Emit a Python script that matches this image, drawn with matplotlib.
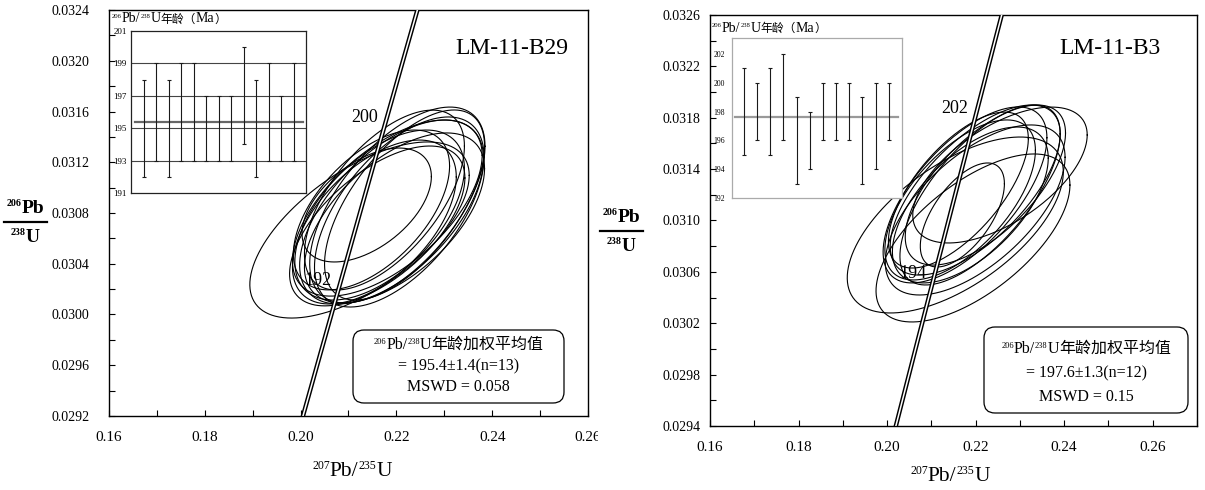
import numpy as np
import matplotlib
matplotlib.use("Agg")
import matplotlib.pyplot as plt
from matplotlib.lines import Line2D
from matplotlib.text import Text
from matplotlib.patches import FancyBboxPatch, Rectangle
from matplotlib.offsetbox import TextArea, HPacker, DrawingArea, AnnotationBbox
from matplotlib.ticker import MultipleLocator, FormatStrFormatter

plt.rcParams['font.family'] = ['Liberation Serif', 'Noto Sans CJK SC']

# decay constants (1/yr)
L238 = 1.55125e-10
L235 = 9.8485e-10

# ---- LM-11-B29 ----  (207/235, 206/238, 2s errors, rho)
b29_cx = [0.2123, 0.2138, 0.2190, 0.2202, 0.2165, 0.2175, 0.2154, 0.2196, 0.2148, 0.2206, 0.2181, 0.2160, 0.2217]
b29_cy = [0.030666, 0.030863, 0.030808, 0.030863, 0.030784, 0.030902, 0.030729, 0.030761, 0.030824, 0.030808, 0.030839, 0.030698, 0.030863]
b29_sx = [0.0229, 0.0135, 0.0192, 0.0183, 0.0177, 0.0167, 0.0171, 0.0188, 0.0163, 0.0177, 0.0198, 0.0183, 0.0167]
b29_sy = [0.000694, 0.000449, 0.000725, 0.000772, 0.000670, 0.000709, 0.000646, 0.000670, 0.000630, 0.000749, 0.000694, 0.000630, 0.000749]
b29_rho = [0.62, 0.50, 0.58, 0.60, 0.55, 0.60, 0.55, 0.58, 0.55, 0.58, 0.60, 0.60, 0.62]
b29_age = [195, 196, 195, 196, 196, 195, 195, 195, 197, 195, 196, 195, 196]
b29_err = [3, 3, 3, 3, 3, 2, 2, 2, 3, 3, 3, 2, 3]
b29_mean = 195.4
b29_ticks = [191, 193, 195, 197, 199, 201]
b29_grid = [193, 195, 197, 199]
b29_marks = [192, 200]

# ---- LM-11-B3 ----
b3_cx = [0.2154, 0.2255, 0.2194, 0.2170, 0.2176, 0.2199, 0.2165, 0.2210, 0.2188, 0.2222, 0.2161, 0.2199]
b3_cy = [0.030965, 0.031354, 0.030864, 0.031043, 0.031199, 0.031237, 0.031160, 0.031199, 0.031121, 0.031276, 0.031237, 0.031082]
b3_sx = [0.0244, 0.0197, 0.0219, 0.0095, 0.0185, 0.0192, 0.0170, 0.0181, 0.0176, 0.0181, 0.0158, 0.0203]
b3_sy = [0.000685, 0.000529, 0.000654, 0.000405, 0.000685, 0.000662, 0.000623, 0.000701, 0.000607, 0.000623, 0.000607, 0.000662]
b3_rho = [0.60, 0.59, 0.63, 0.60, 0.65, 0.66, 0.62, 0.68, 0.60, 0.65, 0.66, 0.62]
b3_age = [198, 198, 198, 199, 196, 196, 198, 198, 198, 196, 197, 198]
b3_err = [3, 2, 3, 3, 3, 2, 2, 2, 2, 3, 3, 2]
b3_mean = 197.6
b3_ticks = [192, 194, 196, 198, 200, 202]
b3_marks = [194, 202]

W, H = 1205, 490
fig = plt.figure(figsize=(W / 100, H / 100), dpi=100)


def fx(px):
    return px / W


def fy(py):
    return 1 - py / H


def ellipse(cx, cy, sx, sy, rho, n=240):
    t = np.linspace(0, 2 * np.pi, n)
    x = cx + sx * np.cos(t)
    y = cy + sy * (rho * np.cos(t) + np.sqrt(1 - rho ** 2) * np.sin(t))
    return x, y


def chem(pieces, size, sup, cjk=None, weight='normal'):
    """pieces: (text, kind) with kind 'sup', 'txt' or 'cjk' -> one baseline row"""
    boxes = []
    rise = 0.66 * (size - sup)
    for s, kind in pieces:
        if kind == 'sup':
            # digits are half an em wide in Liberation Serif
            da = DrawingArea(len(s) * 0.5 * sup, rise + 0.7 * sup, 0, 0)
            da.add_artist(Text(0, rise, s, fontsize=sup, family='Liberation Serif',
                               fontweight=weight, va='baseline'))
            boxes.append(da)
        elif kind == 'cjk':
            boxes.append(TextArea(s, textprops=dict(fontsize=cjk)))
        else:
            boxes.append(TextArea(s, textprops=dict(fontsize=size, fontweight=weight)))
    return HPacker(children=boxes, align="baseline", pad=0, sep=0)


def place(box, px, py, align=(0.5, 0.5)):
    ab = AnnotationBbox(box, (fx(px), fy(py)), xycoords='figure fraction',
                        box_alignment=align, frameon=False, zorder=9)
    fig.add_artist(ab)


def main_panel(rect, xlim, ylim, cx, cy, sx, sy, rho, marks, name, name_xy, ypad):
    ax = fig.add_axes(rect)
    for i in range(len(cx)):
        x, y = ellipse(cx[i], cy[i], sx[i], sy[i], rho[i])
        ax.plot(x, y, color='black', lw=0.8, zorder=3)

    t = np.linspace(180, 212, 400) * 1e6
    ax.plot(np.exp(L235 * t) - 1, np.exp(L238 * t) - 1, color='black', lw=3.2, zorder=5)
    ax.plot(np.exp(L235 * t) - 1, np.exp(L238 * t) - 1, color='white', lw=1.1, zorder=6)
    for a in marks:
        xa = np.exp(L235 * a * 1e6) - 1
        ya = np.exp(L238 * a * 1e6) - 1
        ax.annotate(str(a), (xa, ya), xytext=(-5.5, 3.5), textcoords='offset points',
                    ha='right', va='center', fontsize=13, zorder=7)

    ax.set_xlim(*xlim)
    ax.set_ylim(*ylim)
    ax.xaxis.set_major_locator(MultipleLocator(0.02))
    ax.xaxis.set_minor_locator(MultipleLocator(0.01))
    ax.set_yticks(np.arange(ylim[0], ylim[1] + 1e-7, 0.0004))
    ax.set_yticks(np.arange(ylim[0], ylim[1] + 1e-7, 0.0002), minor=True)
    ax.xaxis.set_major_formatter(FormatStrFormatter('%.2f'))
    ax.yaxis.set_major_formatter(FormatStrFormatter('%.4f'))
    ax.tick_params(which='both', direction='in', length=4, width=0.8)
    ax.tick_params(axis='x', labelsize=11, pad=11)
    ax.tick_params(axis='y', labelsize=10, pad=ypad)
    for s in ax.spines.values():
        s.set_linewidth(1.0)
    ax.text(name_xy[0], name_xy[1], name, transform=ax.transAxes, ha='right', va='center', fontsize=17)
    return ax


def age_inset(rect, ages, errs, mean, ticks, ylim, xlim, grid, frame_color, mean_color, mean_span, lsize, lpad):
    ia = fig.add_axes(rect)
    ia.set_facecolor('white')
    for g in grid:
        ia.axhline(g, color='#444444', lw=0.8, zorder=1)
    ia.axhline(mean, xmin=mean_span[0], xmax=mean_span[1], color=mean_color, lw=1.6, zorder=2)
    pos = np.arange(1, len(ages) + 1)
    ia.errorbar(pos, ages, yerr=errs, fmt='none', ecolor='#1a1a1a', elinewidth=0.8, capsize=1.5,
                capthick=0.8, zorder=3)
    ia.set_xlim(*xlim)
    ia.set_ylim(*ylim)
    ia.set_xticks([])
    ia.set_yticks(ticks)
    ia.tick_params(axis='y', length=0, labelsize=lsize, pad=lpad)
    for s in ia.spines.values():
        s.set_color(frame_color)
        s.set_linewidth(0.9)
    return ia


def ratio_label(x0, x1, yline):
    xc = (x0 + x1) / 2
    place(chem([("206", 'sup'), ("Pb", 'txt')], 14, 7.2, weight='bold'), xc, yline - 14)
    place(chem([("238", 'sup'), ("U", 'txt')], 14, 7.2, weight='bold'), xc, yline + 15)
    fig.add_artist(Line2D([fx(x0), fx(x1)], [fy(yline), fy(yline)], transform=fig.transFigure,
                          color='black', lw=1.6))


def result_box(x0, y0, x1, y1, lines_y, mean, err, n, mswd):
    box = FancyBboxPatch((fx(x0), fy(y1)), fx(x1 - x0), (y1 - y0) / H,
                         boxstyle="round,pad=0,rounding_size=%f" % (11 / W),
                         mutation_aspect=W / H, transform=fig.transFigure,
                         facecolor='white', edgecolor='black', lw=0.9, zorder=8)
    fig.add_artist(box)
    xc = (x0 + x1) / 2
    place(chem([("206", 'sup'), ("Pb/", 'txt'), ("238", 'sup'), ("U", 'txt'), ("年龄加权平均值", 'cjk')],
               11.5, 6.0, cjk=11.5), xc, lines_y[0])
    fig.text(fx(xc), fy(lines_y[1]), "= %.1f±%.1f(n=%d)" % (mean, err, n), ha='center', va='center',
             fontsize=11.5, zorder=9)
    fig.text(fx(xc), fy(lines_y[2]), "MSWD = %s" % mswd, ha='center', va='center', fontsize=11.5, zorder=9)


def inset_title(px, py):
    place(chem([("206", 'sup'), ("Pb/", 'txt'), ("238", 'sup'), ("U", 'txt'), ("年龄（", 'cjk'),
                ("Ma", 'txt'), ("）", 'cjk')], 10, 4.8, cjk=8.5), px, py, align=(0, 0.5))


def x_label(px, py):
    place(chem([("207", 'sup'), ("Pb/", 'txt'), ("235", 'sup'), ("U", 'txt')], 15.5, 8.5), px, py)


# ---------------- left panel ----------------
main_panel([fx(109), fy(416), fx(588) - fx(109), (416 - 10) / H], (0.16, 0.26), (0.0292, 0.0324),
           b29_cx, b29_cy, b29_sx, b29_sy, b29_rho, b29_marks, "LM-11-B29", (0.958, 0.906), 14)
age_inset([fx(131), fy(193), (306 - 131) / W, (193 - 31) / H], b29_age, b29_err, b29_mean,
          b29_ticks, (191, 201), (0, 14), b29_grid, '#222222', '#666666', (0.023, 0.983), 6.5, 3)
inset_title(112, 19)
ratio_label(4, 47, 222)
x_label(352, 471)
result_box(353, 330, 564, 403, (345, 366, 387), b29_mean, 1.4, 13, "0.058")

# ---------------- right panel ----------------
main_panel([fx(710), fy(426), fx(1197) - fx(710), (426 - 15) / H], (0.16, 0.27), (0.0294, 0.0326),
           b3_cx, b3_cy, b3_sx, b3_sy, b3_rho, b3_marks, "LM-11-B3", (0.925, 0.918), 7)
age_inset([fx(732), fy(198), (902 - 732) / W, (198 - 38) / H], b3_age, b3_err, b3_mean,
          b3_ticks, (192, 203.1), (0.1, 13.0), [], '#aaaaaa', '#999999', (0.018, 0.976), 5.5, 5)
inset_title(712, 28)
ratio_label(600, 643, 231)
x_label(950, 476)
result_box(984, 327, 1188, 413, (349, 373, 397), b3_mean, 1.3, 12, "0.15")

# the left picture is cut off at its right edge in the source
fig.add_artist(Rectangle((fx(598), fy(455)), fx(14), 40 / H, transform=fig.transFigure,
                         facecolor='white', edgecolor='none', zorder=20))

fig.savefig("out.png", dpi=100)
